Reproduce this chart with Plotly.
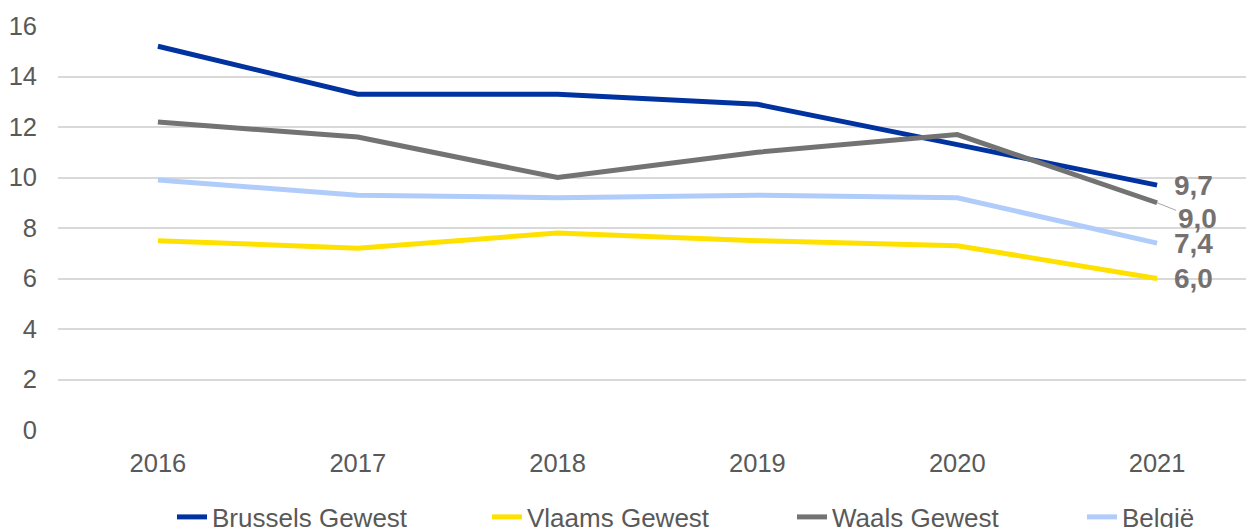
import plotly.graph_objects as go

years = ["2016", "2017", "2018", "2019", "2020", "2021"]
brussels = [15.2, 13.3, 13.3, 12.9, 11.3, 9.7]
vlaams = [7.5, 7.2, 7.8, 7.5, 7.3, 6.0]
waals = [12.2, 11.6, 10.0, 11.0, 11.7, 9.0]
belgie = [9.9, 9.3, 9.2, 9.3, 9.2, 7.4]
y_ticks = [0, 2, 4, 6, 8, 10, 12, 14, 16]

series = [
    ("Brussels Gewest", brussels, "#0033A0"),
    ("Vlaams Gewest", vlaams, "#FFE100"),
    ("Waals Gewest", waals, "#737373"),
    ("België", belgie, "#B0CCFA"),
]

# layout geometry (pixels)
W, H = 1254, 528
ML, MR, MT, MB = 50, 5, 18, 106
PW = W - ML - MR
PH = H - MT - MB
legend_left_px = [164, 479, 784, 1074]
legend_center_px = 509

fig = go.Figure()
for i, (name, vals, col) in enumerate(series):
    lg = "legend" if i == 0 else f"legend{i + 1}"
    fig.add_trace(go.Scatter(x=years, y=vals, name=name, mode="lines",
                             line=dict(color=col, width=5), legend=lg))

def fmt(v):
    return f"{v:.1f}".replace(".", ",")

last_idx = len(years) - 1
lab_font = dict(family="Liberation Sans, Arial", size=28, color="#767171")
annotations = []
for name, vals, col in series:
    v = vals[-1]
    if name == "Waals Gewest":
        annotations.append(dict(x=last_idx, y=v, xref="x", yref="y",
                                text="<b>" + fmt(v) + "</b>", font=lab_font,
                                showarrow=True, arrowhead=0, arrowwidth=1,
                                arrowcolor="#A6A6A6", ax=40, ay=16,
                                xanchor="center", yanchor="middle"))
    else:
        annotations.append(dict(x=last_idx, y=v, xref="x", yref="y",
                                text="<b>" + fmt(v) + "</b>", font=lab_font,
                                showarrow=False, xanchor="left",
                                yanchor="middle", xshift=15, yshift=0))

legend_font = dict(family="Liberation Sans, Arial", size=26, color="#595959")
legends = {}
for i, px in enumerate(legend_left_px):
    key = "legend" if i == 0 else f"legend{i + 1}"
    legends[key] = dict(orientation="h", x=(px - ML) / PW, xanchor="left",
                        y=-(legend_center_px - (MT + PH)) / PH,
                        yanchor="middle", font=legend_font,
                        bgcolor="rgba(0,0,0,0)", borderwidth=0)

fig.update_layout(
    width=W, height=H,
    margin=dict(l=ML, r=MR, t=MT, b=MB, autoexpand=False),
    paper_bgcolor="white", plot_bgcolor="white",
    font=dict(family="Liberation Sans, Arial", size=25, color="#595959"),
    showlegend=True,
    annotations=annotations,
    xaxis=dict(type="category", range=[-0.5, len(years) - 0.5],
               showgrid=False, zeroline=False,
               showline=False, ticks="outside", ticklen=10,
               tickcolor="rgba(0,0,0,0)",
               tickfont=dict(size=25.5, color="#595959")),
    yaxis=dict(range=[0, 16], tickvals=y_ticks, showgrid=True,
               gridcolor="#D9D9D9", gridwidth=1.5, zeroline=False,
               showline=False, ticklabelstandoff=20,
               tickfont=dict(size=25.5, color="#595959")),
    **legends,
)

fig.write_html("out.html")
